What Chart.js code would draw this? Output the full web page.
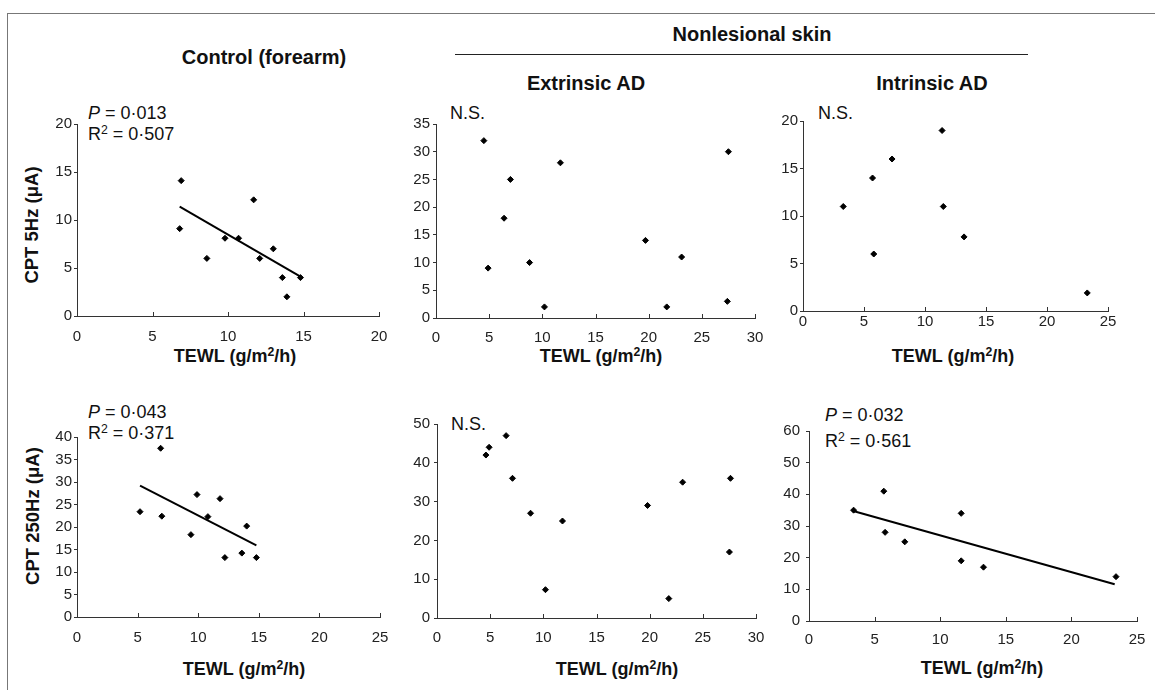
<!DOCTYPE html>
<html><head><meta charset="utf-8">
<script src="https://cdn.jsdelivr.net/npm/chart.js@4.4.0/dist/chart.umd.min.js"></script>
<style>
html,body{margin:0;padding:0;background:#fff}
body{width:1155px;height:690px;overflow:hidden;position:relative;font-family:'Liberation Sans',Arial,Helvetica,sans-serif;color:#111}
.frameL{position:absolute;left:7px;top:13px;width:0;height:690px;border-left:1.5px solid #777}
.frameT{position:absolute;left:7px;top:13px;width:1160px;height:0;border-top:1.5px solid #777}
.c{position:absolute;white-space:nowrap;transform:translate(-50%,-50%)}
.l{position:absolute;white-space:nowrap;transform:translate(0,-50%)}
.hd{font-weight:bold;font-size:20px}
.ax{font-weight:bold;font-size:18px}
.yt{position:absolute;white-space:nowrap;font-weight:bold;font-size:18.5px;transform:translate(-50%,-50%) rotate(-90deg)}
.an{font-size:18px}
.sup{font-size:0.68em;position:relative;top:-0.5em}
.rule{position:absolute;left:455px;top:54px;width:573px;height:0;border-top:1.5px solid #222}
canvas{position:absolute}
</style></head><body>
<div class="frameL"></div><div class="frameT"></div>

<div class="c hd" style="left:264px;top:57px">Control (forearm)</div>
<div class="c hd" style="left:752px;top:34px">Nonlesional skin</div>
<div class="rule"></div>
<div class="c hd" style="left:586px;top:83px">Extrinsic AD</div>
<div class="c hd" style="left:932px;top:83px">Intrinsic AD</div>

<div class="yt" style="left:32px;top:225px">CPT 5Hz (μA)</div>
<div class="yt" style="left:33px;top:516px">CPT 250Hz (μA)</div>

<div class="c ax" style="left:235px;top:356px">TEWL (g/m<span class="sup">2</span>/h)</div>
<div class="c ax" style="left:601px;top:356px">TEWL (g/m<span class="sup">2</span>/h)</div>
<div class="c ax" style="left:953px;top:356px">TEWL (g/m<span class="sup">2</span>/h)</div>
<div class="c ax" style="left:244px;top:669px">TEWL (g/m<span class="sup">2</span>/h)</div>
<div class="c ax" style="left:617px;top:669px">TEWL (g/m<span class="sup">2</span>/h)</div>
<div class="c ax" style="left:982px;top:668px">TEWL (g/m<span class="sup">2</span>/h)</div>

<div class="l an" style="left:88px;top:113px"><i>P</i> = 0·013</div>
<div class="l an" style="left:88px;top:134px">R<span class="sup">2</span> = 0·507</div>
<div class="l an" style="left:450px;top:113px">N.S.</div>
<div class="l an" style="left:818px;top:113px">N.S.</div>
<div class="l an" style="left:88px;top:412px"><i>P</i> = 0·043</div>
<div class="l an" style="left:88px;top:433px">R<span class="sup">2</span> = 0·371</div>
<div class="l an" style="left:451px;top:424px">N.S.</div>
<div class="l an" style="left:825px;top:415px"><i>P</i> = 0·032</div>
<div class="l an" style="left:825px;top:441px">R<span class="sup">2</span> = 0·561</div>

<canvas id="p1"></canvas><canvas id="p2"></canvas><canvas id="p3"></canvas>
<canvas id="p4"></canvas><canvas id="p5"></canvas><canvas id="p6"></canvas>

<script>
// ---- data ----
const control5X = [6.9, 6.8, 8.6, 9.8, 10.7, 11.7, 12.1, 13.0, 13.6, 13.9, 14.8];
const control5Y = [14.1, 9.1, 6.0, 8.1, 8.1, 12.1, 6.0, 7.0, 4.0, 2.0, 4.0];
const control5FitX = [6.8, 14.8];
const control5FitY = [11.4, 4.1];

const extr5X = [4.5, 4.9, 6.4, 7.0, 8.8, 10.2, 11.7, 19.7, 21.7, 23.1, 27.5, 27.4];
const extr5Y = [32, 9, 18, 25, 10, 2, 28, 14, 2, 11, 30, 3];

const intr5X = [3.3, 5.7, 5.8, 7.3, 11.4, 11.5, 13.2, 23.3];
const intr5Y = [11, 14, 6, 16, 19, 11, 7.8, 1.9];

const control250X = [5.2, 6.9, 7.0, 9.4, 9.9, 10.8, 11.8, 12.2, 13.6, 14.0, 14.8];
const control250Y = [23.4, 37.5, 22.4, 18.3, 27.2, 22.3, 26.3, 13.2, 14.2, 20.2, 13.2];
const control250FitX = [5.2, 14.8];
const control250FitY = [29.2, 15.9];

const extr250X = [4.6, 4.9, 6.5, 7.1, 8.8, 10.2, 11.8, 19.8, 21.8, 23.1, 27.6, 27.5];
const extr250Y = [42, 44, 47, 36, 27, 7.3, 25, 29, 5, 35, 36, 17];

const intr250X = [3.4, 5.7, 5.8, 7.3, 11.6, 11.6, 13.3, 23.4];
const intr250Y = [35, 41, 28, 25, 34, 19, 17, 14];
const intr250FitX = [3.3, 23.3];
const intr250FitY = [34.8, 11.6];

// axis ranges / tick steps
const xMax = [20, 30, 25, 25, 30, 25];
const yMax = [20, 35, 20, 40, 50, 60];
const yStep = [5, 5, 5, 5, 10, 10];

// ---- helpers ----
const pts = (xs, ys) => xs.map((x, i) => ({x, y: ys[i]}));
const FONT = "'Liberation Sans', Arial, Helvetica, sans-serif";

const upTicks = {
  id: 'upTicks',
  afterDraw(chart) {
    const s = chart.scales.x, ctx = chart.ctx;
    ctx.save();
    ctx.strokeStyle = '#333'; ctx.lineWidth = 1;
    s.ticks.forEach((t, i) => {
      const px = Math.round(s.getPixelForTick(i)) + 0.5;
      ctx.beginPath(); ctx.moveTo(px, s.top); ctx.lineTo(px, s.top - 4); ctx.stroke();
    });
    ctx.restore();
  }
};

const PADL = 50, PADT = 15, PADR = 22, PADB = 40;

function panel(id, box, idx, scatter, fit, xPad, yPad) {
  const cv = document.getElementById(id);
  const W = box.R - box.L + PADL + PADR, H = box.B - box.T + PADT + PADB;
  cv.width = W; cv.height = H;
  cv.style.left = (box.L - PADL) + 'px';
  cv.style.top = (box.T - PADT) + 'px';
  cv.style.width = W + 'px'; cv.style.height = H + 'px';
  const datasets = [{
    type: 'scatter', data: scatter, pointStyle: 'rectRot',
    pointRadius: 3, pointBackgroundColor: '#000', pointBorderColor: '#000', pointBorderWidth: 1
  }];
  if (fit) datasets.push({
    type: 'line', data: fit, borderColor: '#000', borderWidth: 2, pointRadius: 0, fill: false, tension: 0
  });
  new Chart(cv, {
    type: 'scatter',
    data: {datasets},
    options: {
      responsive: false, animation: false, devicePixelRatio: 1,
      layout: {padding: {top: PADT, right: PADR, left: 0, bottom: 0}},
      plugins: {legend: {display: false}, tooltip: {enabled: false}},
      scales: {
        x: {
          type: 'linear', min: 0, max: xMax[idx],
          afterFit: s => { s.height = PADB; },
          ticks: {stepSize: 5, color: '#222', padding: xPad, font: {family: FONT, size: 15}},
          grid: {display: true, drawOnChartArea: false, drawTicks: false},
          border: {display: true, color: '#333', width: 1}
        },
        y: {
          type: 'linear', min: 0, max: yMax[idx],
          afterFit: s => { s.width = PADL; },
          ticks: {stepSize: yStep[idx], color: '#222', padding: yPad, font: {family: FONT, size: 15}},
          grid: {display: true, drawOnChartArea: false, drawTicks: true, tickLength: 3, color: '#333'},
          border: {display: true, color: '#333', width: 1}
        }
      }
    },
    plugins: [upTicks]
  });
}

panel('p1', {L: 77, R: 379, T: 124, B: 316}, 0, pts(control5X, control5Y), pts(control5FitX, control5FitY), 12, 2);
panel('p2', {L: 436, R: 755, T: 124, B: 318}, 1, pts(extr5X, extr5Y), null, 11, 3);
panel('p3', {L: 803, R: 1108, T: 121, B: 311}, 2, pts(intr5X, intr5Y), null, 2, 2);
panel('p4', {L: 77, R: 380, T: 437, B: 617}, 3, pts(control250X, control250Y), pts(control250FitX, control250FitY), 12, 2);
panel('p5', {L: 437, R: 756, T: 424, B: 618}, 4, pts(extr250X, extr250Y), null, 11, 4);
panel('p6', {L: 809, R: 1137, T: 431, B: 621}, 5, pts(intr250X, intr250Y), pts(intr250FitX, intr250FitY), 10, 6);
</script>
</body></html>
